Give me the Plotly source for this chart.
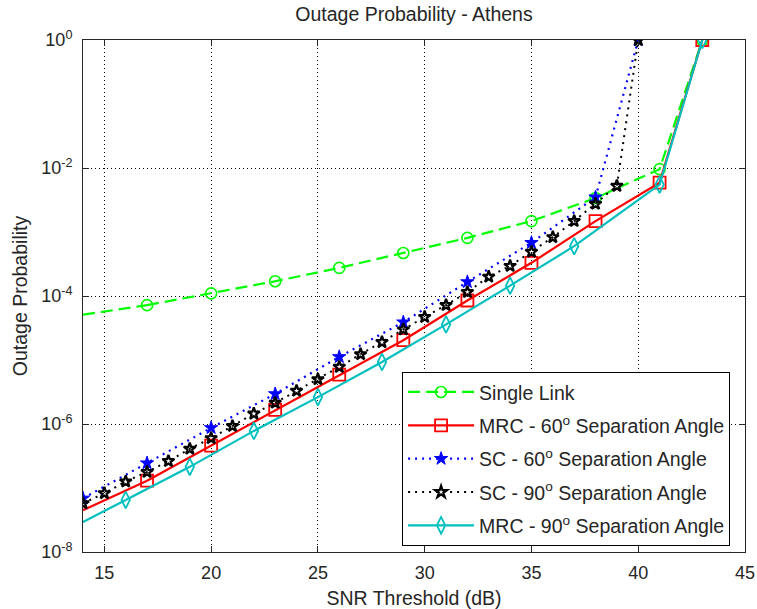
import plotly.graph_objects as go

# SNR threshold grids (dB) for each scheme
snr_single = [14, 17, 20, 23, 26, 29, 32, 35, 38, 41, 43]
snr_mrc60 = [14, 17, 20, 23, 26, 29, 32, 35, 38, 41, 43]
snr_sc60 = [14, 17, 20, 23, 26, 29, 32, 35, 38, 40]
snr_sc90 = list(range(14, 41))
snr_mrc90 = [14, 16, 19, 22, 25, 28, 31, 34, 37, 41, 43]

# Outage probabilities
p_single = [5.1e-5, 7.2e-5, 1.1e-4, 1.7e-4, 2.75e-4, 4.7e-4, 8.1e-4, 1.48e-3, 3.4e-3, 9.6e-3, 1.0]
p_mrc60 = [4.5e-8, 1.3e-7, 4.6e-7, 1.66e-6, 5.9e-6, 2.04e-5, 8.5e-5, 3.3e-4, 1.48e-3, 5.9e-3, 1.0]
p_sc60 = [6.9e-8, 2.45e-7, 8.7e-7, 2.95e-6, 1.12e-5, 3.9e-5, 1.66e-4, 6.8e-4, 3.5e-3, 1.0]
p_sc90 = [5.75e-8, 8.3e-8, 1.26e-7, 1.78e-7, 2.63e-7, 4.1e-7, 6.0e-7, 9.3e-7, 1.45e-6,
          2.14e-6, 3.3e-6, 5.0e-6, 7.8e-6, 1.23e-5, 1.9e-5, 3.0e-5, 4.7e-5, 7.2e-5,
          1.15e-4, 2.0e-4, 2.95e-4, 4.9e-4, 8.3e-4, 1.48e-3, 2.75e-3, 5.25e-3, 1.0]
p_mrc90 = [2.95e-8, 6.5e-8, 2.14e-7, 7.8e-7, 2.63e-6, 9.3e-6, 3.6e-5, 1.45e-4, 6.0e-4, 5.5e-3, 1.0]

series_names = [
    "Single Link",
    "MRC - 60<sup>o</sup> Separation Angle",
    "SC - 60<sup>o</sup> Separation Angle",
    "SC - 90<sup>o</sup> Separation Angle",
    "MRC - 90<sup>o</sup> Separation Angle",
]

x_ticks = [15, 20, 25, 30, 35, 40, 45]
y_ticks = [1e-8, 1e-6, 1e-4, 1e-2, 1]
y_ticktext = ["10<sup>-8</sup>", "10<sup>-6</sup>", "10<sup>-4</sup>", "10<sup>-2</sup>", "10<sup>0</sup>"]

FONT = "Liberation Sans, Arial, sans-serif"
AXC = "#262626"

fig = go.Figure()


def add_series(x, y, name, color, dash, symbol, msize, lw, mlw, group, lead_in):
    """Draw a series; with lead_in the first segment is drawn as a plain line
    and markers start at the second sample."""
    start = 0
    if lead_in:
        fig.add_trace(go.Scatter(
            x=x[:2], y=y[:2], mode="lines", showlegend=False, hoverinfo="skip",
            line=dict(color=color, width=lw, dash=dash), legendgroup=group))
        start = 1
    fig.add_trace(go.Scatter(
        x=x[start:], y=y[start:], mode="lines+markers", name=name, legendgroup=group,
        line=dict(color=color, width=lw, dash=dash),
        marker=dict(symbol=symbol, size=msize, color=color,
                    line=dict(color=color, width=mlw)),
    ))


add_series(snr_single, p_single, series_names[0], "#00FF00", "12px,6px", "circle-open", 11, 2.2, 1.6, "g1", True)
add_series(snr_mrc60, p_mrc60, series_names[1], "#FF0000", "solid", "square-open", 12, 2.2, 1.8, "g2", True)
add_series(snr_sc60, p_sc60, series_names[2], "#0000FF", "2px,5px", "star", 10, 2.2, 1.0, "g3", False)
add_series(snr_sc90, p_sc90, series_names[3], "#000000", "2px,5px", "star-open", 9, 2.0, 2.2, "g4", False)
add_series(snr_mrc90, p_mrc90, series_names[4], "#00BFBF", "solid", "diamond-tall-open", 12, 2.2, 1.8, "g5", True)

fig.update_layout(
    width=757, height=609,
    paper_bgcolor="white", plot_bgcolor="white",
    margin=dict(l=83, r=12, t=40, b=57),
    font=dict(family=FONT, size=18, color="#262626"),
    title=dict(text="Outage Probability - Athens", x=0.5, xref="paper",
               y=0.977, yref="container", yanchor="middle",
               font=dict(size=19.5, family=FONT, color="#262626")),
    legend=dict(x=0.482, y=0.352, xanchor="left", yanchor="top",
                bgcolor="white", bordercolor="#000000", borderwidth=1,
                font=dict(size=19.5, family=FONT, color="#262626"),
                traceorder="grouped", tracegroupgap=5, itemwidth=66),
    showlegend=True,
)

fig.update_xaxes(
    range=[14, 45], tickvals=x_ticks, ticks="inside", ticklen=6, tickcolor=AXC,
    showline=True, linecolor=AXC, linewidth=1, mirror="ticks",
    showgrid=True, gridcolor="#000000", griddash="1px,3px", gridwidth=1,
    zeroline=False, ticklabelstandoff=4, automargin=False,
    title=dict(text="SNR Threshold (dB)", standoff=10, font=dict(size=19.5)),
)
fig.update_yaxes(
    type="log", range=[-8, 0], tickvals=y_ticks, ticktext=y_ticktext,
    ticks="inside", ticklen=6, tickcolor=AXC,
    showline=True, linecolor=AXC, linewidth=1, mirror="ticks",
    showgrid=True, gridcolor="#000000", griddash="1px,3px", gridwidth=1,
    zeroline=False, ticklabelstandoff=6, automargin=False,
    title=dict(text="Outage Probability", standoff=8, font=dict(size=19.5)),
)

fig.write_html("out.html")
